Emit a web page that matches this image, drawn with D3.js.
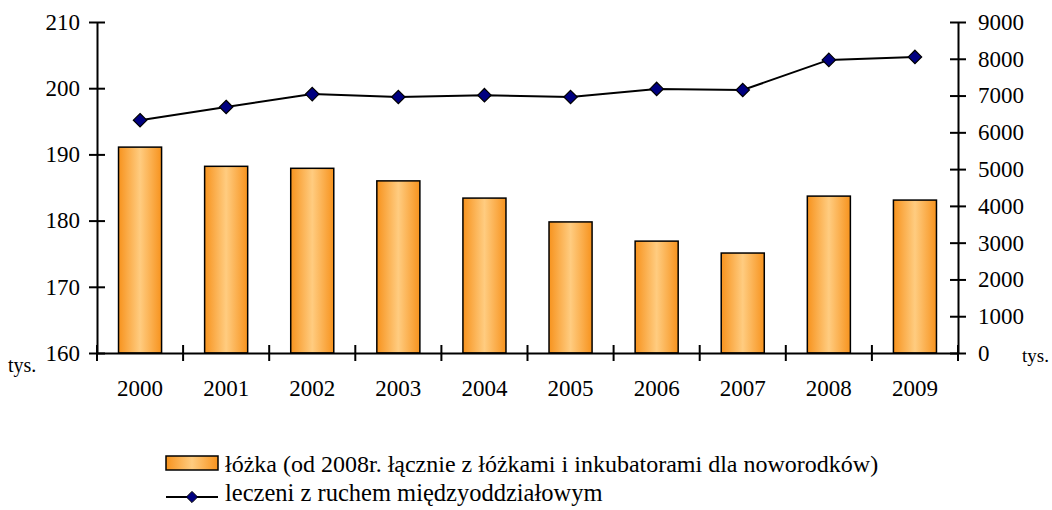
<!DOCTYPE html>
<html>
<head>
<meta charset="utf-8">
<script src="https://cdn.jsdelivr.net/npm/d3@7"></script>
<style>
  body { margin: 0; background: #fff; }
</style>
</head>
<body>
<script>
// data
var years = ["2000","2001","2002","2003","2004","2005","2006","2007","2008","2009"];
var beds = [191.1, 188.2, 187.9, 186.0, 183.4, 179.8, 176.9, 175.1, 183.7, 183.1];   // lewa os, tys.
var patients = [6330, 6690, 7040, 6960, 7010, 6960, 7180, 7150, 7970, 8050];         // prawa os, tys.
var leftTicks = [160, 170, 180, 190, 200, 210];
var rightTicks = [0, 1000, 2000, 3000, 4000, 5000, 6000, 7000, 8000, 9000];
var legendBeds = "łóżka (od 2008r. łącznie z łóżkami i inkubatorami dla noworodków)";
var legendPatients = "leczeni z ruchem międzyoddziałowym";

var FONT = "'Liberation Serif'";
var w_svg = 1052, h_svg = 510;
var x0 = 97, x1 = 958, yTop = 22, yBot = 353;

var svg = d3.select("body").append("svg")
  .attr("width", w_svg).attr("height", h_svg);

// gradient for bars
var grad = svg.append("defs").append("linearGradient")
  .attr("id", "barGrad").attr("x1", "0%").attr("x2", "100%").attr("y1", "0%").attr("y2", "0%");
grad.append("stop").attr("offset", "0%").attr("stop-color", "#f7931e");
grad.append("stop").attr("offset", "50%").attr("stop-color", "#ffcc80");
grad.append("stop").attr("offset", "100%").attr("stop-color", "#f7931e");

var xScale = d3.scaleBand().domain(years).range([x0, x1]).paddingInner(0).paddingOuter(0);
var yLeft = d3.scaleLinear().domain([160, 210]).range([yBot, yTop]);
var yRight = d3.scaleLinear().domain([0, 9000]).range([yBot, yTop]);

// bars
var bw = xScale.bandwidth() / 2;
svg.selectAll("rect.bar")
  .data(years)
  .enter()
  .append("rect")
  .attr("class", "bar")
  .attr("x", function(d) { return xScale(d) + xScale.bandwidth() / 4; })
  .attr("y", function(d, i) { return yLeft(beds[i]); })
  .attr("width", bw)
  .attr("height", function(d, i) { return yBot - yLeft(beds[i]); })
  .attr("fill", "url(#barGrad)")
  .attr("stroke", "#000")
  .attr("stroke-width", 1.5);

// left axis
var leftAxis = d3.axisLeft(yLeft).tickValues(leftTicks).tickFormat(d3.format("d"))
  .tickSizeInner(8).tickSizeOuter(0).tickPadding(9);
var gl = svg.append("g").attr("transform", "translate(" + x0 + ",0)").call(leftAxis);
gl.selectAll(".tick line").attr("x2", 8).attr("x1", -8);

// right axis
var rightAxis = d3.axisRight(yRight).tickValues(rightTicks).tickFormat(d3.format("d"))
  .tickSizeInner(8).tickSizeOuter(0).tickPadding(12);
var gr = svg.append("g").attr("transform", "translate(" + x1 + ",0)").call(rightAxis);
gr.selectAll(".tick line").attr("x1", -8).attr("x2", 8);

// x axis
var xAxis = d3.axisBottom(xScale).tickSize(0).tickPadding(27);
var gx = svg.append("g").attr("transform", "translate(0," + yBot + ")").call(xAxis);
// category boundary ticks
var bounds = years.map(function(d) { return xScale(d); });
bounds.push(x1);
gx.selectAll("line.bnd")
  .data(bounds)
  .enter()
  .append("line")
  .attr("class", "bnd")
  .attr("x1", function(d) { return d; }).attr("x2", function(d) { return d; })
  .attr("y1", -8).attr("y2", 8)
  .attr("stroke", "#000").attr("stroke-width", 2);

[gl, gr, gx].forEach(function(g) {
  g.attr("font-family", FONT).attr("font-size", 23);
  g.selectAll(".domain").attr("stroke", "#000").attr("stroke-width", 2);
  g.selectAll(".tick line").attr("stroke", "#000").attr("stroke-width", 2);
  g.selectAll("text").style("font-family", FONT).style("font-size", "23px").attr("fill", "#000");
});

// line series
var cx = function(i) { return xScale(years[i]) + xScale.bandwidth() / 2; };
var line = d3.line()
  .x(function(d, i) { return cx(i); })
  .y(function(d) { return yRight(d); });
svg.append("path")
  .datum(patients)
  .attr("d", line)
  .attr("fill", "none")
  .attr("stroke", "#000")
  .attr("stroke-width", 2);

var diamond = d3.symbol().type(d3.symbolDiamond2).size(115);
svg.selectAll("path.pt")
  .data(patients)
  .enter()
  .append("path")
  .attr("class", "pt")
  .attr("d", diamond)
  .attr("transform", function(d, i) { return "translate(" + cx(i) + "," + yRight(d) + ")"; })
  .attr("fill", "#000080")
  .attr("stroke", "#000")
  .attr("stroke-width", 1.2);

// units
function label(x, y, size, txt) {
  return svg.append("text").attr("x", x).attr("y", y)
    .style("font-family", FONT).style("font-size", size + "px").attr("fill", "#000").text(txt);
}
label(8, 372, 20, "tys.");
label(1022, 362, 19, "tys.");

// legend
svg.append("rect")
  .attr("x", 166).attr("y", 456).attr("width", 52).attr("height", 14)
  .attr("fill", "url(#barGrad)").attr("stroke", "#000").attr("stroke-width", 1.5);
label(225, 472, 24, legendBeds);

svg.append("line")
  .attr("x1", 166).attr("x2", 218).attr("y1", 497).attr("y2", 497)
  .attr("stroke", "#000").attr("stroke-width", 2);
svg.append("path")
  .attr("d", d3.symbol().type(d3.symbolDiamond2).size(80))
  .attr("transform", "translate(192,497)")
  .attr("fill", "#000080").attr("stroke", "#000").attr("stroke-width", 1);
label(225, 501, 24.5, legendPatients);
</script>
</body>
</html>
